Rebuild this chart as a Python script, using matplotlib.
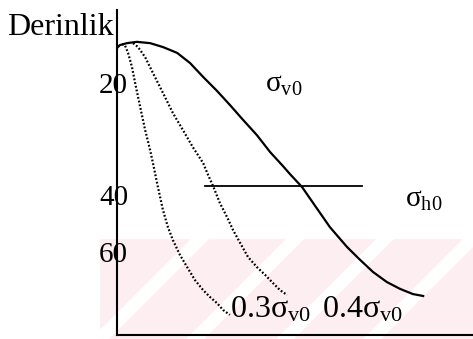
import matplotlib.pyplot as plt
from matplotlib.patches import Rectangle, Polygon

plt.rcParams['font.family'] = 'Liberation Serif'
plt.rcParams['mathtext.fontset'] = 'custom'
plt.rcParams['mathtext.rm'] = 'Liberation Serif'
plt.rcParams['mathtext.it'] = 'Liberation Serif'

# sigma_v0 (solid), x = stress, y = depth (axis units 0..100)
sv_x = [0, 0.8, 2.8, 5.6, 9.3, 12.9, 16.9, 20.5, 24.2, 28.1, 31.7, 35.4, 39.3, 43.0,
        46.6, 48.6, 52.0, 55.1, 59.8, 64.6, 68.3, 71.9, 75.8, 79.5, 83.1, 86.0]
sv_y = [11.7, 10.8, 10.2, 9.8, 10.2, 11.4, 13.2, 16.3, 20.6, 24.9, 29.2, 33.8, 38.5, 43.7,
        48.0, 50.5, 54.5, 59.4, 66.8, 72.9, 76.9, 80.6, 83.7, 85.8, 87.4, 88.0]

# 0.3 sigma_v0 (dotted)
s03_x = [1.4, 2.2, 3.1, 4.2, 5.1, 6.5, 7.9, 9.3, 10.1, 11.5, 12.9, 14.3, 15.7, 17.7,
         19.7, 21.9, 24.2, 26.1, 28.1, 29.8, 31.7]
s03_y = [10.5, 10.8, 13.2, 17.5, 22.5, 29.8, 36.9, 43.1, 47.1, 54.5, 61.5, 66.8, 70.8, 75.4,
         79.1, 83.1, 86.2, 88.3, 90.2, 92.3, 93.8]

# 0.4 sigma_v0 (dotted)
s04_x = [4.5, 5.9, 7.9, 10.1, 12.9, 15.7, 18.5, 21.3, 24.2, 25.6, 27.0, 28.9, 30.9, 32.6,
         34.6, 36.8, 39.3, 41.6, 43.8, 45.8, 47.8]
s04_y = [10.2, 11.4, 14.5, 19.4, 25.5, 31.7, 36.9, 42.2, 47.1, 50.8, 54.2, 59.4, 63.7, 67.7,
         71.7, 76.0, 79.1, 81.5, 84.0, 86.2, 87.7]

# sigma_h0 (horizontal line)
sh_x = [24.7, 68.8]
sh_y = [54.2, 54.2]

depth_ticks = [22.5, 56.9, 74.5]
depth_labels = ['20', '40', '60']

W, H = 473, 339
fig = plt.figure(figsize=(W / 100, H / 100), dpi=100)

# faint pink scan watermark
band = Rectangle((100 / W, 0), 1 - 100 / W, 100 / H, transform=fig.transFigure,
                 fc='#fdeef1', ec='none', zorder=-2)
fig.add_artist(band)
for cx in [200, 295, 385, 472]:
    pts = [(cx - 9, 239), (cx + 9, 239), (cx + 9 - 100, 339), (cx - 9 - 100, 339)]
    stripe = Polygon([(px / W, 1 - py / H) for px, py in pts], closed=True,
                     transform=fig.transFigure, fc='white', ec='none', zorder=-1)
    fig.add_artist(stripe)
    stripe.set_clip_path(band)

ax = fig.add_axes([117 / W, 1 - 335 / H, 1 - 117 / W, 325 / H])
ax.patch.set_visible(False)

ax.plot(sv_x, sv_y, color='black', lw=1.6, solid_joinstyle='round')
ax.plot(s03_x, s03_y, color='black', lw=1.6, ls=(0, (0.8, 0.9)))
ax.plot(s04_x, s04_y, color='black', lw=1.6, ls=(0, (0.8, 0.9)))
ax.plot(sh_x, sh_y, color='black', lw=1.3)

ax.set_xlim(0, 100)
ax.set_ylim(100, 0)
ax.spines['top'].set_visible(False)
ax.spines['right'].set_visible(False)
ax.spines['left'].set_linewidth(1.5)
ax.spines['bottom'].set_linewidth(1.5)
ax.set_xticks([])
ax.set_yticks(depth_ticks, depth_labels)
ax.tick_params(axis='y', length=0, pad=-8, labelsize=21)

ax.text(41.6, 25.2, r'$\mathrm{σ_{v0}}$', fontsize=21, va='baseline')
ax.text(80.9, 60.6, r'$\mathrm{σ_{h0}}$', fontsize=21, va='baseline')
ax.text(31.7, 94.5, r'$\mathrm{0.3σ_{v0}}$', fontsize=23, va='baseline')
ax.text(57.6, 94.5, r'$\mathrm{0.4σ_{v0}}$', fontsize=23, va='baseline')

fig.text(7 / W, 1 - 35 / H, 'Derinlik', fontsize=23, va='baseline')

fig.savefig('out.png', dpi=100)
